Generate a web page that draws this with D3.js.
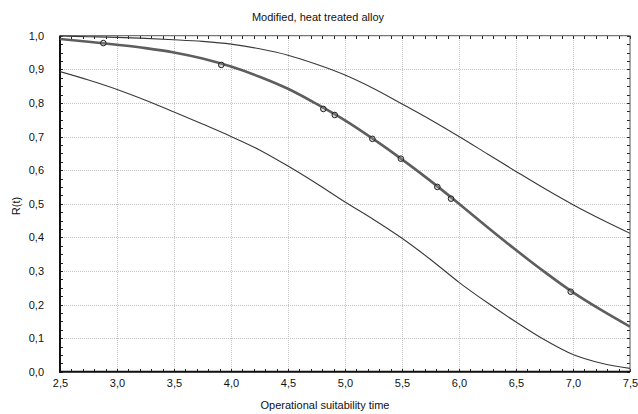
<!DOCTYPE html>
<html>
<head>
<meta charset="utf-8">
<script src="https://cdn.jsdelivr.net/npm/d3@7"></script>
<style>
  html, body { margin: 0; padding: 0; background: #ffffff; }
  svg { display: block; font-family: "Liberation Sans", Arial, sans-serif; }
</style>
</head>
<body>
<svg id="chart" width="638" height="414"></svg>
<script>
// ---- data ----
const chartTitle = "Modified, heat treated alloy";
const xTitle = "Operational suitability time";
const yTitle = "R(t)";

const tGrid = [2.5, 2.75, 3.0, 3.25, 3.5, 3.75, 4.0, 4.25, 4.5, 4.75, 5.0,
               5.25, 5.5, 5.75, 6.0, 6.25, 6.5, 6.75, 7.0, 7.25, 7.5];
const upperBound = [0.999, 0.997, 0.995, 0.992, 0.988, 0.983, 0.975, 0.961, 0.942, 0.915, 0.883,
                    0.843, 0.797, 0.750, 0.700, 0.648, 0.596, 0.545, 0.497, 0.453, 0.412];
const fitted     = [0.990, 0.982, 0.973, 0.963, 0.950, 0.932, 0.908, 0.878, 0.842, 0.797, 0.748,
                    0.692, 0.632, 0.568, 0.500, 0.430, 0.362, 0.297, 0.236, 0.183, 0.134];
const lowerBound = [0.893, 0.868, 0.840, 0.808, 0.773, 0.737, 0.700, 0.660, 0.612, 0.560, 0.505,
                    0.453, 0.397, 0.334, 0.266, 0.205, 0.148, 0.095, 0.051, 0.025, 0.010];

const obsT = [2.88, 3.915, 4.81, 4.91, 5.24, 5.49, 5.81, 5.93, 6.98];
const obsR = [0.978, 0.913, 0.782, 0.764, 0.693, 0.634, 0.550, 0.515, 0.238];

const xTicks = [2.5, 3.0, 3.5, 4.0, 4.5, 5.0, 5.5, 6.0, 6.5, 7.0, 7.5];
const yTicks = [0.0, 0.1, 0.2, 0.3, 0.4, 0.5, 0.6, 0.7, 0.8, 0.9, 1.0];

// ---- layout ----
const L = 60, R = 630, T = 35.7, B = 371.7;
const svg = d3.select("#chart");
const x = d3.scaleLinear().domain([2.5, 7.5]).range([L, R]);
const y = d3.scaleLinear().domain([0, 1]).range([B, T]);
const fmt = v => d3.format(".1f")(v).replace(".", ",");

// grid
const grid = svg.append("g").attr("stroke", "#c4c4c4").attr("stroke-width", 1)
  .attr("stroke-dasharray", "1,1").attr("shape-rendering", "crispEdges");
grid.selectAll("line.gx").data(xTicks.slice(1, -1)).join("line")
  .attr("x1", d => Math.round(x(d)) + 0.5).attr("x2", d => Math.round(x(d)) + 0.5)
  .attr("y1", T).attr("y2", B);
grid.selectAll("line.gy").data(yTicks.slice(1, -1)).join("line")
  .attr("y1", d => Math.round(y(d)) + 0.5).attr("y2", d => Math.round(y(d)) + 0.5)
  .attr("x1", L).attr("x2", R);

// minor tick values
const xMinor = d3.range(25, 76).map(v => v / 10);
const yMinor = d3.range(0, 41).map(v => v / 40);

function styleAxis(g) {
  g.select(".domain").remove();
  g.selectAll(".tick line").attr("stroke", "#222").attr("shape-rendering", "crispEdges");
  g.selectAll(".tick text").attr("fill", "#111").style("font-size", "11px")
    .style("font-family", "'Liberation Sans', Arial, sans-serif");
}

// bottom axis: inward minor ticks, labels outside
svg.append("g").attr("transform", `translate(0,${B})`)
  .call(d3.axisBottom(x).tickValues(xMinor).tickSize(-3).tickFormat(""))
  .call(styleAxis);
svg.append("g").attr("transform", `translate(0,${B})`)
  .call(d3.axisBottom(x).tickValues(xTicks).tickSize(0).tickPadding(8).tickFormat(fmt))
  .call(styleAxis);
// top
svg.append("g").attr("transform", `translate(0,${T})`)
  .call(d3.axisTop(x).tickValues(xMinor).tickSize(-3).tickFormat(""))
  .call(styleAxis);
// left
svg.append("g").attr("transform", `translate(${L},0)`)
  .call(d3.axisLeft(y).tickValues(yMinor).tickSize(-3).tickFormat(""))
  .call(styleAxis);
svg.append("g").attr("transform", `translate(${L},0)`)
  .call(d3.axisLeft(y).tickValues(yTicks).tickSize(0).tickPadding(16).tickFormat(fmt))
  .call(styleAxis);
// right
svg.append("g").attr("transform", `translate(${R},0)`)
  .call(d3.axisRight(y).tickValues(yMinor).tickSize(-3).tickFormat(""))
  .call(styleAxis);

// frame
svg.append("rect").attr("x", L).attr("y", T).attr("width", R - L).attr("height", B - T)
  .attr("fill", "none").attr("stroke", "#555").attr("stroke-width", 1);
svg.append("line").attr("x1", L).attr("x2", L).attr("y1", T).attr("y2", B + 1)
  .attr("stroke", "#111").attr("stroke-width", 2);
svg.append("line").attr("x1", L - 1).attr("x2", R).attr("y1", B).attr("y2", B)
  .attr("stroke", "#111").attr("stroke-width", 2);

// curves
const line = d3.line().x(d => x(d[0])).y(d => y(d[1])).curve(d3.curveMonotoneX);
const clip = svg.append("clipPath").attr("id", "plotclip").append("rect")
  .attr("x", L).attr("y", T - 1).attr("width", R - L).attr("height", B - T + 1);
const curves = svg.append("g").attr("clip-path", "url(#plotclip)");

curves.append("path").datum(d3.zip(tGrid, upperBound)).attr("d", line)
  .attr("fill", "none").attr("stroke", "#3a3a3a").attr("stroke-width", 1.1);
curves.append("path").datum(d3.zip(tGrid, lowerBound)).attr("d", line)
  .attr("fill", "none").attr("stroke", "#3a3a3a").attr("stroke-width", 1.1);
curves.append("path").datum(d3.zip(tGrid, fitted)).attr("d", line)
  .attr("fill", "none").attr("stroke", "#5e5e5e").attr("stroke-width", 2.6);

// observed points
svg.append("g").selectAll("circle").data(d3.zip(obsT, obsR)).join("circle")
  .attr("cx", d => x(d[0])).attr("cy", d => y(d[1])).attr("r", 2.8)
  .attr("fill", "#9a9a9a").attr("fill-opacity", 0.35)
  .attr("stroke", "#222").attr("stroke-width", 1);

// titles
svg.append("text").attr("x", 318).attr("y", 21).attr("text-anchor", "middle")
  .style("font-size", "11px").attr("fill", "#111").text(chartTitle);
svg.append("text").attr("x", 325).attr("y", 409).attr("text-anchor", "middle")
  .style("font-size", "11px").attr("fill", "#111").text(xTitle);
svg.append("text").attr("transform", "translate(20,206) rotate(-90)").attr("text-anchor", "middle")
  .style("font-size", "11px").attr("fill", "#111").text(yTitle);
</script>
</body>
</html>
